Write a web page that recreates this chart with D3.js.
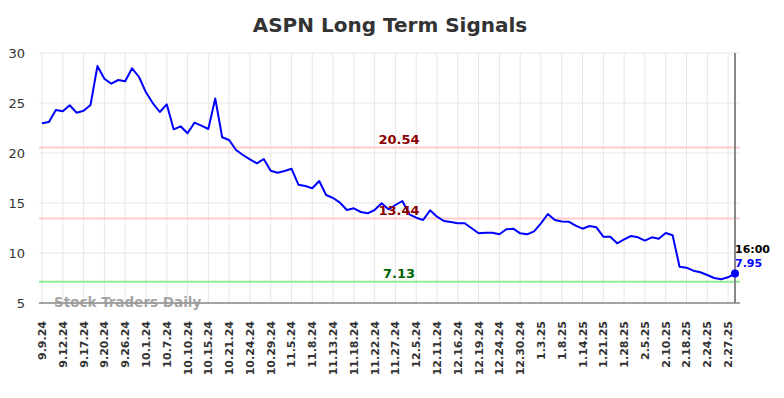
<!DOCTYPE html>
<html>
<head>
<meta charset="utf-8">
<script src="https://cdn.jsdelivr.net/npm/d3@7"></script>
<style>
  html, body { margin: 0; padding: 0; background: #fff; }
  svg { display: block; font-family: "DejaVu Sans", sans-serif; }
</style>
</head>
<body>
<svg id="chart" width="784" height="398"></svg>
<script>
const title = "ASPN Long Term Signals";
const values = [
  22.97, 23.1, 24.3, 24.17, 24.77, 24.03, 24.23, 24.8, 28.7, 27.43,
  26.93, 27.3, 27.17, 28.47, 27.6, 26.07, 24.97, 24.1, 24.87, 22.37,
  22.67, 21.97, 23.03, 22.73, 22.4, 25.45, 21.57, 21.3, 20.3, 19.8,
  19.37, 18.97, 19.4, 18.23, 18.03, 18.2, 18.43, 16.83, 16.7, 16.47,
  17.2, 15.8, 15.5, 15.03, 14.3, 14.47, 14.1, 13.97, 14.3, 14.97,
  14.37, 14.8, 15.2, 13.87, 13.53, 13.3, 14.27, 13.63, 13.2, 13.1,
  12.97, 12.97, 12.47, 11.97, 12.03, 12.03, 11.87, 12.37, 12.43, 11.97,
  11.87, 12.17, 12.97, 13.9, 13.3, 13.15, 13.13, 12.73, 12.43, 12.7,
  12.57, 11.63, 11.63, 10.97, 11.37, 11.7, 11.57, 11.23, 11.57, 11.43,
  12.0, 11.77, 8.63, 8.53, 8.23, 8.07, 7.8, 7.5, 7.37, 7.57,
  7.95
];
const tickLabels = [
  "9.9.24", "9.12.24", "9.17.24", "9.20.24", "9.26.24", "10.1.24", "10.7.24",
  "10.10.24", "10.15.24", "10.21.24", "10.24.24", "10.29.24", "11.5.24", "11.8.24",
  "11.13.24", "11.18.24", "11.22.24", "11.27.24", "12.5.24", "12.11.24", "12.16.24",
  "12.19.24", "12.24.24", "12.30.24", "1.3.25", "1.8.25", "1.14.25", "1.21.25",
  "1.28.25", "2.5.25", "2.10.25", "2.18.25", "2.24.25", "2.27.25"
];
const tickStep = 3;
const yTicks = [5, 10, 15, 20, 25, 30];
const signalLevels = [20.54, 13.44];
const supportLevels = [7.13];
const lastTime = "16:00";
const watermark = "Stock Traders Daily";

const svg = d3.select("#chart");
const pLeft = 42, pRight = 735, pTop = 53, pBottom = 303;

const x = d3.scaleLinear().domain([0, values.length - 1]).range([pLeft, pRight]);
const y = d3.scaleLinear().domain([5, 30]).range([pBottom, pTop]);

const g = svg.append("g");

// title
svg.append("text")
  .attr("x", 390).attr("y", 32)
  .attr("text-anchor", "middle")
  .attr("font-size", 20).attr("font-weight", "bold")
  .attr("fill", "#333")
  .text(title);

// grid
const tickIdx = tickLabels.map((d, i) => i * tickStep);
g.selectAll(".vgrid").data(tickIdx).enter().append("line")
  .attr("x1", d => x(d)).attr("x2", d => x(d))
  .attr("y1", pTop).attr("y2", pBottom)
  .attr("stroke", "#e6e6e6").attr("stroke-width", 1);
g.selectAll(".hgrid").data(yTicks).enter().append("line")
  .attr("x1", pLeft - 3).attr("x2", pRight + 5)
  .attr("y1", d => y(d)).attr("y2", d => y(d))
  .attr("stroke", "#e6e6e6").attr("stroke-width", 1);

// y labels
g.selectAll(".ylab").data(yTicks).enter().append("text")
  .attr("x", 25).attr("y", d => y(d))
  .attr("dy", "0.35em")
  .attr("text-anchor", "end")
  .attr("font-size", 13).attr("fill", "#333")
  .text(d => d);

// x labels
g.selectAll(".xlab").data(tickLabels).enter().append("text")
  .attr("transform", (d, i) => `translate(${x(i * tickStep) + 4},321) rotate(-90)`)
  .attr("text-anchor", "end")
  .attr("font-size", 11).attr("font-weight", "bold").attr("fill", "#333")
  .text(d => d);

// signal lines
g.selectAll(".sig").data(signalLevels).enter().append("line")
  .attr("x1", pLeft - 3).attr("x2", pRight + 5)
  .attr("y1", d => y(d)).attr("y2", d => y(d))
  .attr("stroke", "#ffcccc").attr("stroke-width", 2);
g.selectAll(".sup").data(supportLevels).enter().append("line")
  .attr("x1", pLeft - 3).attr("x2", pRight + 5)
  .attr("y1", d => y(d)).attr("y2", d => y(d))
  .attr("stroke", "#90ee90").attr("stroke-width", 2);

// watermark
svg.append("text")
  .attr("x", 54).attr("y", 307)
  .attr("font-size", 13.5).attr("font-weight", "bold")
  .attr("fill", "#999").attr("fill-opacity", 0.9)
  .text(watermark);

// axis line
g.append("line")
  .attr("x1", pLeft - 3).attr("x2", pRight + 5)
  .attr("y1", pBottom).attr("y2", pBottom)
  .attr("stroke", "#555").attr("stroke-width", 1);

// vertical last line
g.append("line")
  .attr("x1", x(values.length - 1)).attr("x2", x(values.length - 1))
  .attr("y1", pTop).attr("y2", pBottom)
  .attr("stroke", "#888").attr("stroke-width", 2);

// price line
const line = d3.line().x((d, i) => x(i)).y(d => y(d));
g.append("path").datum(values)
  .attr("d", line)
  .attr("fill", "none").attr("stroke", "#0000ff").attr("stroke-width", 2)
  .attr("stroke-linejoin", "round");

// level labels
g.selectAll(".siglab").data(signalLevels).enter().append("text")
  .attr("x", 399).attr("y", d => y(d) - 4)
  .attr("text-anchor", "middle")
  .attr("font-size", 13).attr("font-weight", "bold").attr("fill", "#8b0000")
  .text(d => d.toFixed(2));
g.selectAll(".suplab").data(supportLevels).enter().append("text")
  .attr("x", 399).attr("y", d => y(d) - 4)
  .attr("text-anchor", "middle")
  .attr("font-size", 13).attr("font-weight", "bold").attr("fill", "#006400")
  .text(d => d.toFixed(2));

// last point
const li = values.length - 1;
g.append("circle").attr("cx", x(li)).attr("cy", y(values[li])).attr("r", 4).attr("fill", "#0000ff");
g.append("text").attr("x", x(li)).attr("y", 253)
  .attr("font-size", 11).attr("font-weight", "bold").attr("fill", "#000")
  .text(lastTime);
g.append("text").attr("x", x(li)).attr("y", 267)
  .attr("font-size", 11).attr("font-weight", "bold").attr("fill", "#0000ff")
  .text(values[li].toFixed(2));
</script>
</body>
</html>
